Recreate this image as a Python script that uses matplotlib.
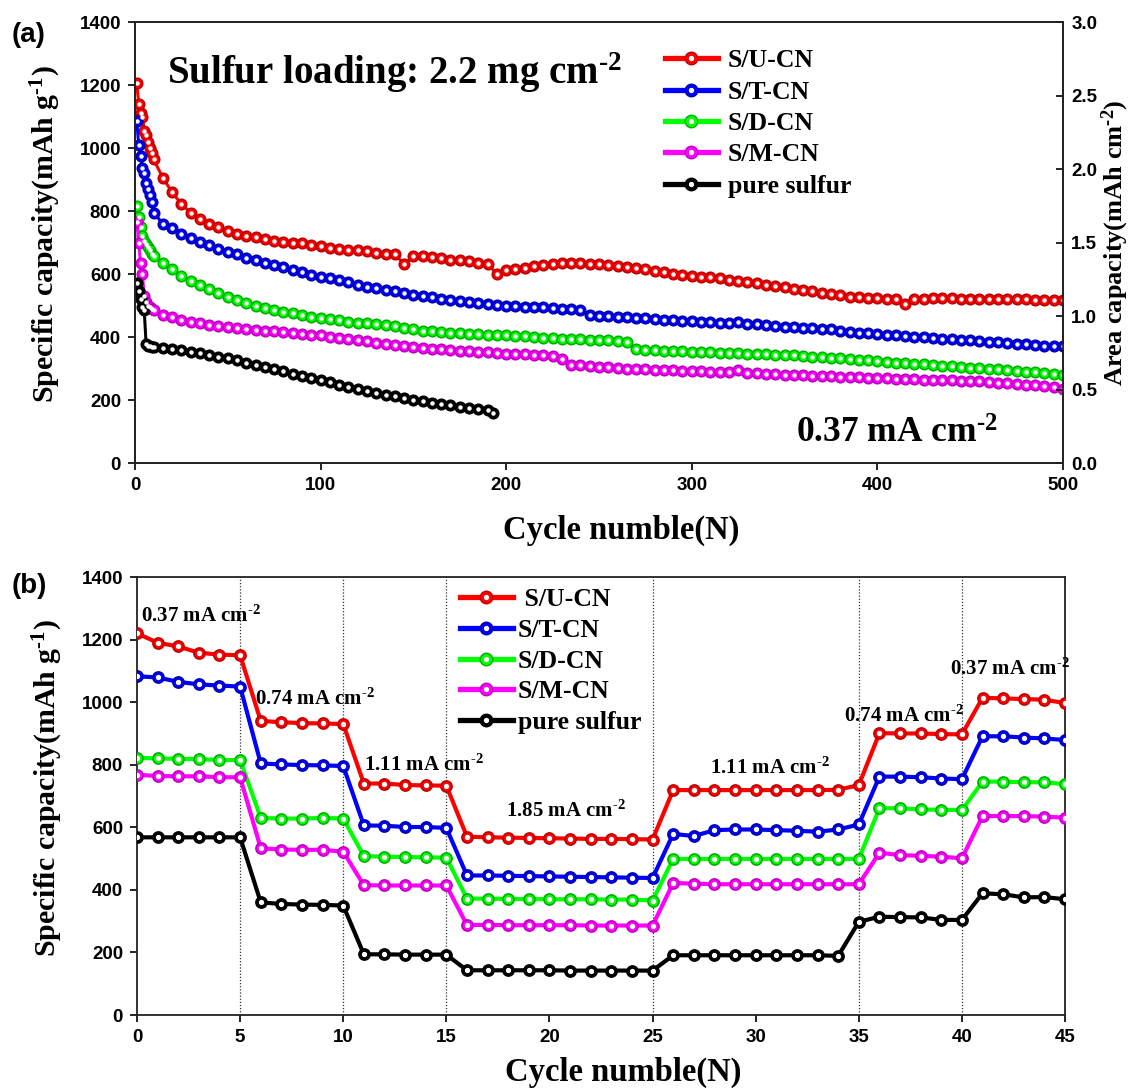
import matplotlib
matplotlib.use("Agg")
import matplotlib.pyplot as plt
from matplotlib.lines import Line2D
from matplotlib.legend_handler import HandlerTuple

plt.rcParams["font.family"] = ["Liberation Sans", "DejaVu Sans"]
plt.rcParams["mathtext.fontset"] = "custom"
plt.rcParams["mathtext.rm"] = "Liberation Serif:bold"
plt.rcParams["mathtext.it"] = "Liberation Serif:bold"
plt.rcParams["mathtext.bf"] = "Liberation Serif:bold"
plt.rcParams["mathtext.default"] = "rm"

# ---------------- data: long-term cycling at 0.37 mA cm-2 ----------------
cycles_long = [1, 2, 3, 4, 5, 6, 7, 8, 9, 10] + list(range(15, 501, 5))

su_cn_long = [1205, 1140, 1110, 1100, 1055, 1040, 1020, 1000, 985, 965,
              905, 860, 822, 795, 775, 760, 748, 738, 728, 722,
              716, 710, 706, 703, 700, 697, 693, 688, 684, 680,
              677, 675, 672, 668, 665, 662, 632, 656, 658, 655,
              650, 646, 643, 640, 636, 632, 600, 612, 617, 620,
              624, 628, 632, 634, 635, 634, 633, 631, 629, 627,
              623, 620, 615, 610, 606, 600, 597, 595, 592, 590,
              586, 582, 578, 574, 570, 566, 562, 558, 553, 549,
              545, 540, 536, 532, 528, 526, 524, 523, 522, 522,
              505, 520, 522, 523, 523, 523, 522, 522, 521, 521,
              521, 520, 520, 520, 519, 519, 518, 517]

st_cn_long = [1085, 1010, 975, 935, 920, 890, 870, 850, 830, 795,
              760, 745, 728, 715, 703, 692, 680, 670, 662, 652,
              644, 636, 628, 621, 614, 606, 598, 591, 586, 580,
              574, 566, 560, 555, 550, 545, 540, 535, 530, 526,
              522, 519, 515, 512, 509, 505, 502, 499, 498, 496,
              495, 494, 492, 490, 488, 485, 470, 468, 466, 465,
              463, 461, 459, 457, 455, 454, 452, 450, 449, 447,
              446, 445, 447, 442, 440, 437, 435, 433, 431, 430,
              428, 426, 424, 420, 417, 414, 412, 410, 408, 405,
              403, 401, 399, 397, 395, 393, 391, 389, 387, 385,
              383, 381, 379, 377, 375, 373, 372, 370]

sd_cn_long = [815, 780, 750, 720, 705, 695, 685, 675, 665, 658,
              635, 615, 595, 578, 565, 552, 540, 528, 518, 508,
              500, 493, 486, 480, 475, 470, 465, 461, 457, 453,
              449, 446, 443, 440, 437, 434, 430, 425, 420, 418,
              416, 414, 412, 410, 409, 407, 406, 405, 404, 402,
              400, 398, 397, 395, 394, 393, 392, 390, 389, 387,
              385, 362, 360, 358, 357, 356, 355, 354, 352, 351,
              350, 349, 348, 347, 346, 345, 344, 343, 342, 341,
              338, 336, 334, 332, 330, 328, 326, 323, 321, 319,
              317, 315, 313, 311, 309, 307, 305, 303, 301, 299,
              297, 295, 292, 290, 288, 286, 283, 280]

sm_cn_long = [765, 700, 635, 600, 530, 510, 500, 495, 490, 486,
              470, 462, 455, 448, 443, 438, 434, 431, 428, 425,
              422, 420, 418, 416, 414, 411, 408, 405, 401, 397,
              393, 390, 386, 382, 378, 375, 371, 368, 365, 363,
              361, 359, 357, 355, 353, 351, 349, 347, 346, 345,
              344, 342, 340, 330, 312, 310, 308, 306, 304, 302,
              300, 298, 297, 296, 295, 294, 293, 292, 291, 290,
              289, 288, 295, 286, 285, 283, 282, 281, 279, 278,
              277, 276, 275, 274, 273, 272, 271, 270, 269, 268,
              267, 266, 265, 264, 263, 262, 261, 260, 259, 257,
              255, 253, 251, 249, 247, 244, 240, 236]

cycles_sulfur = [1, 2, 3, 4, 5, 6, 7, 8, 9, 10] + list(range(15, 191, 5)) + [193]
sulfur_long = [570, 545, 520, 495, 485, 378, 372, 370, 368, 367,
               365, 362, 358, 353, 348, 343, 338, 333, 326, 319,
               312, 305, 298, 291, 284, 277, 270, 263, 256, 249,
               242, 235, 229, 223, 217, 212, 206, 201, 196, 191,
               187, 183, 179, 175, 171, 167, 160]

# ---------------- data: rate capability ----------------
cycles_rate = list(range(0, 46))
su_cn_rate = [1220, 1190, 1178, 1158, 1152, 1150,
              940, 936, 933, 932, 930,
              740, 740, 735, 734, 733,
              570, 568, 567, 566, 565, 564, 563, 563, 562, 561,
              719, 719, 719, 719, 719, 719, 719, 719, 720, 735,
              901, 900, 900, 898, 897,
              1014, 1012, 1010, 1008, 997]
st_cn_rate = [1083, 1079, 1065, 1057, 1053, 1050,
              804, 801, 799, 798, 796,
              606, 605, 601, 601, 598,
              446, 446, 445, 444, 443, 442, 441, 440, 439, 438,
              579, 572, 591, 593, 593, 591, 589, 586, 593, 609,
              762, 762, 760, 756, 754,
              891, 891, 887, 884, 879]
sd_cn_rate = [822, 820, 819, 818, 815, 815,
              630, 628, 628, 630, 628,
              508, 506, 505, 504, 503,
              372, 372, 371, 371, 370, 370, 370, 369, 369, 366,
              499, 499, 499, 499, 499, 499, 499, 499, 499, 499,
              661, 661, 657, 656, 655,
              746, 746, 744, 744, 738]
sm_cn_rate = [768, 764, 763, 763, 760, 760,
              533, 529, 528, 528, 522,
              415, 414, 414, 414, 414,
              288, 288, 287, 287, 287, 287, 286, 286, 286, 286,
              422, 420, 418, 418, 418, 418, 418, 418, 418, 418,
              519, 511, 509, 506, 501,
              636, 636, 636, 634, 631]
sulfur_rate = [568, 568, 568, 568, 568, 568,
               360, 355, 353, 352, 350,
               194, 194, 193, 193, 193,
               143, 143, 143, 143, 143, 142, 142, 142, 142, 142,
               191, 191, 191, 191, 191, 191, 191, 191, 189, 298,
               314, 313, 312, 304, 304,
               389, 386, 376, 377, 370]

rate_switch_cycles = [5, 10, 15, 25, 35, 40]
rate_labels = ["0.37", "0.74", "1.11", "1.85", "1.11", "0.74", "0.37"]
rate_label_cycles = [0.2, 5.7, 11.0, 17.9, 27.8, 34.3, 39.4]
rate_label_caps = [1275, 1010, 800, 650, 790, 955, 1105]

series_names = ["S/U-CN", "S/T-CN", "S/D-CN", "S/M-CN", "pure sulfur"]
colors = ["#ff0000", "#0000ff", "#00ff00", "#ff00ff", "#000000"]
edges = ["#c00000", "#0000b0", "#00b000", "#c000c0", "#000000"]

SERIF = "Liberation Serif"
SUP2 = r"$^{\text{-}2}$"
SUP1 = r"$^{\text{-}1}$"

fig = plt.figure(figsize=(11.37, 10.90), dpi=100)
ax1 = fig.add_axes([0.1187, 0.5752, 0.8162, 0.4046])
ax2 = fig.add_axes([0.1205, 0.0688, 0.8162, 0.4018])


def style_axes(ax):
    for sp in ax.spines.values():
        sp.set_linewidth(1.3)
        sp.set_color("#222222")
    ax.tick_params(axis="both", which="major", direction="out", length=5,
                   width=1.2, labelsize=13.5, pad=5)
    for lab in ax.get_xticklabels() + ax.get_yticklabels():
        lab.set_fontweight("bold")


# ---------------- panel (a) ----------------
long_x = [cycles_long, cycles_long, cycles_long, cycles_long, cycles_sulfur]
long_y = [su_cn_long, st_cn_long, sd_cn_long, sm_cn_long, sulfur_long]
for x, y, c, e in zip(long_x, long_y, colors, edges):
    ax1.plot(x, y, color=c, lw=2.2, marker="o", ms=7.5, mfc=c, mec=e, mew=1.2, zorder=3)
    ax1.plot(x, y, ls="", marker="o", ms=2.2, color="white", zorder=4)

ax1.set_xlim(0, 500)
ax1.set_ylim(0, 1400)
ax1.set_xticks(range(0, 501, 100))
ax1.set_yticks(range(0, 1401, 200))
style_axes(ax1)
ax1.set_xlabel("Cycle numble(N)", fontfamily=SERIF, fontweight="bold", fontsize=23.5, labelpad=15)
ax1.xaxis.label.set_x(0.524)
ax1.set_ylabel("Specific capacity(mAh g" + SUP1 + ")", fontfamily=SERIF, fontweight="bold",
               fontsize=21.5, labelpad=12)
ax1.yaxis.label.set_y(0.52)

ax1r = ax1.twinx()
ax1r.set_ylim(0, 3.0)
ax1r.set_yticks([0.0, 0.5, 1.0, 1.5, 2.0, 2.5, 3.0])
ax1r.set_yticklabels(["0.0", "0.5", "1.0", "1.5", "2.0", "2.5", "3.0"])
ax1r.tick_params(axis="y", direction="in", length=5, width=1.2, labelsize=13.5, pad=6)
for lab in ax1r.get_yticklabels():
    lab.set_fontweight("bold")
for sp in ax1r.spines.values():
    sp.set_linewidth(1.3)
    sp.set_color("#222222")
ax1r.set_ylabel("Area capacity(mAh cm" + SUP2 + ")", fontfamily=SERIF, fontweight="bold",
                fontsize=19, labelpad=2)

ax1.text(0.034, 0.885, "Sulfur loading: 2.2 mg cm" + SUP2, transform=ax1.transAxes,
         fontfamily=SERIF, fontweight="bold", fontsize=28, va="center", ha="left")
ax1.text(0.712, 0.065, "0.37 mA cm" + SUP2, transform=ax1.transAxes,
         fontfamily=SERIF, fontweight="bold", fontsize=25.5, va="center", ha="left")


def make_handles(lw, ms, dot):
    hs = []
    for c, e in zip(colors, edges):
        hs.append((Line2D([], [], color=c, lw=lw, marker="o", ms=ms, mfc=c, mec=e, mew=1.0),
                   Line2D([], [], ls="", marker="o", ms=dot, color="white")))
    return hs


ax1.legend(make_handles(3.8, 9, 2.8), series_names,
           handler_map={tuple: HandlerTuple(ndivide=1)},
           loc="upper left", bbox_to_anchor=(0.56, 0.962), frameon=False,
           prop={"family": SERIF, "weight": "bold", "size": 18.5},
           handlelength=2.06, handletextpad=0.39, labelspacing=0.33, borderaxespad=0)

# ---------------- panel (b) ----------------
rate_y = [su_cn_rate, st_cn_rate, sd_cn_rate, sm_cn_rate, sulfur_rate]
for xv in rate_switch_cycles:
    ax2.axvline(xv, color="#333333", lw=0.9, ls=(0, (1, 1.5)), zorder=1)
for y, c, e in zip(rate_y, colors, edges):
    ax2.plot(cycles_rate, y, color=c, lw=3.0, marker="o", ms=8, mfc=c, mec=e, mew=1.2, zorder=3)
    ax2.plot(cycles_rate, y, ls="", marker="o", ms=2.8, color="white", zorder=4)

ax2.set_xlim(0, 45)
ax2.set_ylim(0, 1400)
ax2.set_xticks(range(0, 46, 5))
ax2.set_yticks(range(0, 1401, 200))
style_axes(ax2)
ax2.set_xlabel("Cycle numble(N)", fontfamily=SERIF, fontweight="bold", fontsize=23.5, labelpad=8)
ax2.xaxis.label.set_x(0.524)
ax2.set_ylabel("Specific capacity(mAh g" + SUP1 + ")", fontfamily=SERIF, fontweight="bold",
               fontsize=21.5, labelpad=12)
ax2.yaxis.label.set_y(0.518)

for lbl, xc, yc in zip(rate_labels, rate_label_cycles, rate_label_caps):
    ax2.text(xc, yc, lbl + " mA cm" + SUP2, fontfamily=SERIF, fontweight="bold",
             fontsize=15, va="center", ha="left", zorder=5)

labels_b = [" " + series_names[0]] + series_names[1:]
ax2.legend(make_handles(3.8, 9, 2.8), labels_b,
           handler_map={tuple: HandlerTuple(ndivide=1)},
           loc="upper left", bbox_to_anchor=(0.337, 0.998), frameon=False,
           prop={"family": SERIF, "weight": "bold", "size": 18.5},
           handlelength=2.06, handletextpad=0.2, labelspacing=0.30, borderaxespad=0)

fig.text(0.010, 0.968, "(a)", fontsize=20, fontweight="bold", va="center", ha="left")
fig.text(0.010, 0.462, "(b)", fontsize=20, fontweight="bold", va="center", ha="left")

fig.savefig("out.png", dpi=100)
